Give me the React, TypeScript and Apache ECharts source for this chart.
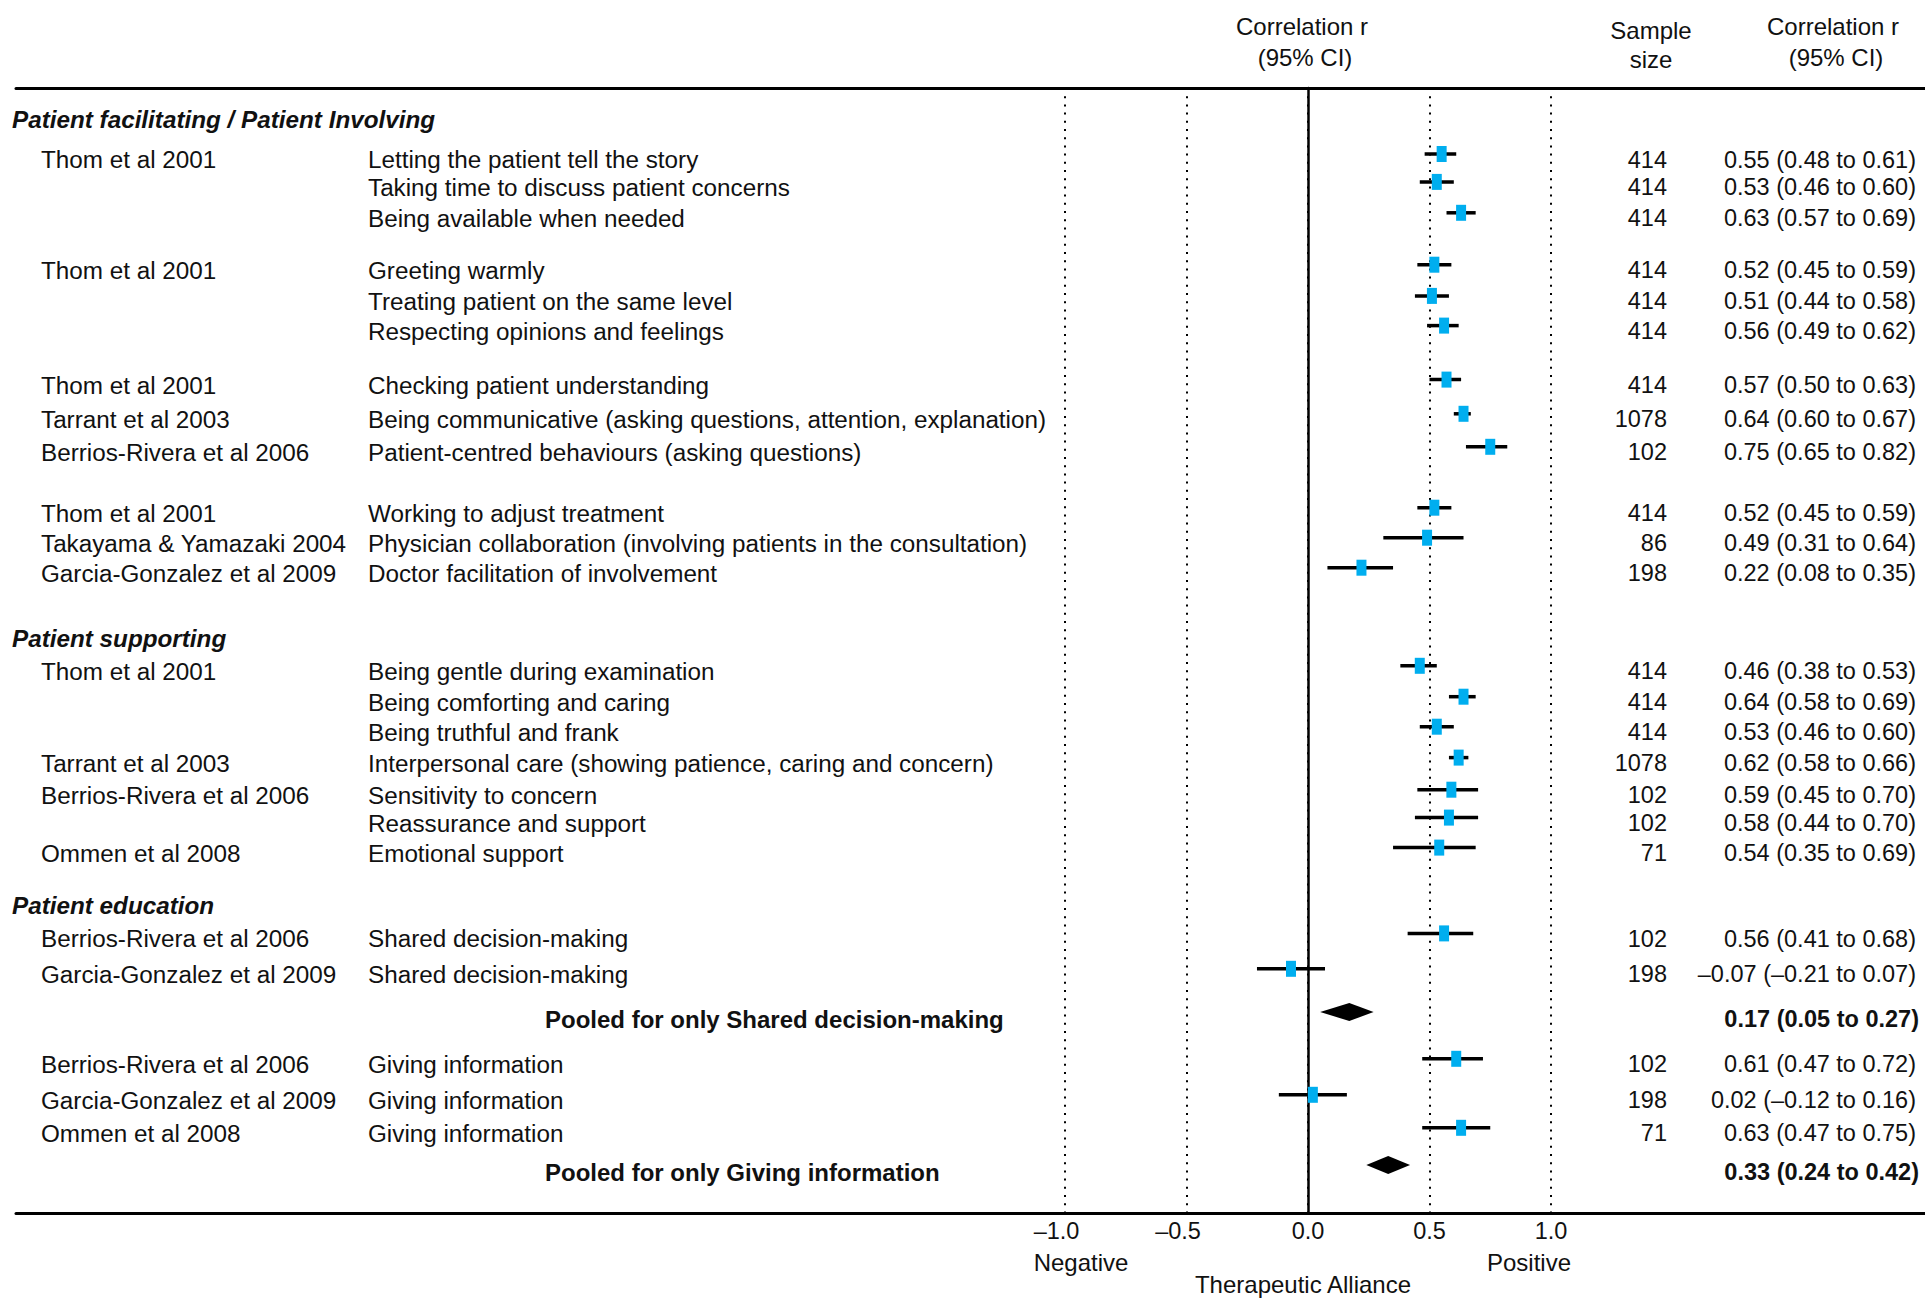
import React, { useEffect, useRef } from 'react';
import * as echarts from 'echarts';

// ---------- DATA ----------
const GROUPS = ['Patient facilitating / Patient Involving', 'Patient supporting', 'Patient education'];

const STUDY = [
  'Thom et al 2001', '', '',
  'Thom et al 2001', '', '',
  'Thom et al 2001', 'Tarrant et al 2003', 'Berrios-Rivera et al 2006',
  'Thom et al 2001', 'Takayama & Yamazaki 2004', 'Garcia-Gonzalez et al 2009',
  'Thom et al 2001', '', '', 'Tarrant et al 2003', 'Berrios-Rivera et al 2006', '', 'Ommen et al 2008',
  'Berrios-Rivera et al 2006', 'Garcia-Gonzalez et al 2009',
  'Berrios-Rivera et al 2006', 'Garcia-Gonzalez et al 2009', 'Ommen et al 2008',
];

const OUTCOME = [
  'Letting the patient tell the story', 'Taking time to discuss patient concerns', 'Being available when needed',
  'Greeting warmly', 'Treating patient on the same level', 'Respecting opinions and feelings',
  'Checking patient understanding', 'Being communicative (asking questions, attention, explanation)', 'Patient-centred behaviours (asking questions)',
  'Working to adjust treatment', 'Physician collaboration (involving patients in the consultation)', 'Doctor facilitation of involvement',
  'Being gentle during examination', 'Being comforting and caring', 'Being truthful and frank',
  'Interpersonal care (showing patience, caring and concern)', 'Sensitivity to concern', 'Reassurance and support', 'Emotional support',
  'Shared decision-making', 'Shared decision-making',
  'Giving information', 'Giving information', 'Giving information',
];

const SAMPLE = [414, 414, 414, 414, 414, 414, 414, 1078, 102, 414, 86, 198, 414, 414, 414, 1078, 102, 102, 71, 102, 198, 102, 198, 71];
const R = [0.55, 0.53, 0.63, 0.52, 0.51, 0.56, 0.57, 0.64, 0.75, 0.52, 0.49, 0.22, 0.46, 0.64, 0.53, 0.62, 0.59, 0.58, 0.54, 0.56, -0.07, 0.61, 0.02, 0.63];
const LO = [0.48, 0.46, 0.57, 0.45, 0.44, 0.49, 0.50, 0.60, 0.65, 0.45, 0.31, 0.08, 0.38, 0.58, 0.46, 0.58, 0.45, 0.44, 0.35, 0.41, -0.21, 0.47, -0.12, 0.47];
const HI = [0.61, 0.60, 0.69, 0.59, 0.58, 0.62, 0.63, 0.67, 0.82, 0.59, 0.64, 0.35, 0.53, 0.69, 0.60, 0.66, 0.70, 0.70, 0.69, 0.68, 0.07, 0.72, 0.16, 0.75];

const POOLED_LABEL = ['Pooled for only Shared decision-making', 'Pooled for only Giving information'];
const POOLED_R = [0.17, 0.33];
const POOLED_LO = [0.05, 0.24];
const POOLED_HI = [0.27, 0.42];

// ---------- LAYOUT (row slots, in row units) ----------
const GROUP_ROW = [0.93, 18.2, 27.13];
const STUDY_ROW = [2.2, 3.13, 4.16, 5.89, 6.93, 7.92, 9.72, 10.86, 11.96, 13.99, 14.99, 15.99,
  19.26, 20.29, 21.29, 22.32, 23.39, 24.32, 25.32, 28.18, 29.36, 32.36, 33.56, 34.66];
const POOLED_ROW = [30.8, 35.9];
const ROW_MAX = 37.5;

const FONT = '"Liberation Sans", Helvetica, Arial, sans-serif';
const INK = '#111';
const LEFT_SIZE = 24.25;
const NUM_SIZE = 23.5;

const fmt = (v: number) => (v < 0 ? '–' : '') + Math.abs(v).toFixed(2);
const ciText = (r: number, lo: number, hi: number) => `${fmt(r)} (${fmt(lo)} to ${fmt(hi)})`;

function textSeries(xCol: number, rows: number[], texts: string[], o: any) {
  return {
    type: 'custom',
    xAxisIndex: 1,
    yAxisIndex: 1,
    silent: true,
    data: rows.map((p) => [xCol, p]),
    encode: { x: 0, y: 1 },
    renderItem: (params: any, api: any) => {
      const t = texts[params.dataIndex];
      if (!t) return { type: 'group', children: [] };
      const c = api.coord([api.value(0), api.value(1)]);
      return {
        type: 'text',
        x: c[0],
        y: c[1] + (o.dy ?? 5.5),
        style: {
          text: t,
          align: o.align,
          textAlign: o.align,
          verticalAlign: 'middle',
          textVerticalAlign: 'middle',
          fontSize: o.size ?? LEFT_SIZE,
          fontWeight: o.weight ?? 'normal',
          fontStyle: o.style ?? 'normal',
          fontFamily: FONT,
          fill: INK,
        },
      };
    },
  };
}

function gText(text: string, x: number, y: number, size = 24) {
  return {
    type: 'text',
    x,
    y,
    silent: true,
    style: {
      text,
      align: 'center',
      textAlign: 'center',
      verticalAlign: 'middle',
      textVerticalAlign: 'middle',
      fontSize: size,
      fontFamily: FONT,
      fill: INK,
    },
  };
}

export default function App() {
  const ref = useRef<HTMLDivElement>(null);

  useEffect(() => {
    document.body.style.margin = '0';
    const chart = echarts.init(ref.current!, null, { renderer: 'svg' });

    const axisHidden = { axisLabel: { show: false }, axisTick: { show: false }, splitLine: { show: false } };

    const option: any = {
      animation: false,
      backgroundColor: '#fff',
      grid: [
        { left: 1065, right: 374, top: 88, bottom: 86 },
        { left: 16, right: 0, top: 88, bottom: 86 },
      ],
      xAxis: [
        {
          gridIndex: 0,
          type: 'value',
          min: -1,
          max: 1,
          interval: 0.5,
          axisLine: { show: false, onZero: false },
          axisTick: { show: false },
          axisLabel: {
            show: true,
            margin: 6,
            fontSize: NUM_SIZE,
            fontFamily: FONT,
            color: INK,
            formatter: (v: number) => {
              const s = Math.abs(v).toFixed(1);
              return v < 0 ? `{n|–${s}}` : s;
            },
            rich: { n: { fontSize: NUM_SIZE, fontFamily: FONT, color: INK, padding: [0, 17, 0, 0] } },
          },
          splitLine: { show: true, lineStyle: { type: [2, 6.2], width: 2, color: '#000' } },
        },
        {
          gridIndex: 1,
          type: 'value',
          position: 'bottom',
          min: 16,
          max: 1925,
          axisLine: { show: true, onZero: false, lineStyle: { color: '#000', width: 3 } },
          ...axisHidden,
        },
        {
          gridIndex: 1,
          type: 'value',
          position: 'top',
          min: 16,
          max: 1925,
          axisLine: { show: true, onZero: false, lineStyle: { color: '#000', width: 3 } },
          ...axisHidden,
        },
      ],
      yAxis: [
        {
          gridIndex: 0,
          type: 'value',
          inverse: true,
          min: 0,
          max: ROW_MAX,
          axisLine: { show: true, onZero: true, lineStyle: { color: '#000', width: 2.5 } },
          ...axisHidden,
        },
        {
          gridIndex: 1,
          type: 'value',
          inverse: true,
          min: 0,
          max: ROW_MAX,
          show: false,
        },
      ],
      graphic: [
        gText('Correlation r', 1302, 26),
        gText('(95% CI)', 1305, 57),
        gText('Sample', 1651, 30),
        gText('size', 1651, 59),
        gText('Correlation r', 1833, 26),
        gText('(95% CI)', 1836, 57),
        gText('Negative', 1081, 1262),
        gText('Positive', 1529, 1262),
        gText('Therapeutic Alliance', 1303, 1284),
      ],
      series: [
        // confidence intervals and point estimates
        {
          type: 'custom',
          xAxisIndex: 0,
          yAxisIndex: 0,
          silent: true,
          data: STUDY_ROW.map((p, i) => [LO[i], HI[i], R[i], p]),
          encode: { x: [0, 1, 2], y: 3 },
          renderItem: (params: any, api: any) => {
            const y = api.value(3);
            const a = api.coord([api.value(0), y]);
            const b = api.coord([api.value(1), y]);
            const m = api.coord([api.value(2), y]);
            return {
              type: 'group',
              children: [
                { type: 'line', shape: { x1: a[0], y1: a[1], x2: b[0], y2: b[1] }, style: { stroke: '#000', lineWidth: 3.5 } },
                { type: 'rect', shape: { x: m[0] - 5, y: m[1] - 8, width: 10, height: 16 }, style: { fill: '#00AEEF' } },
              ],
            };
          },
        },
        // pooled diamonds
        {
          type: 'custom',
          xAxisIndex: 0,
          yAxisIndex: 0,
          silent: true,
          data: POOLED_ROW.map((p, i) => [POOLED_LO[i], POOLED_HI[i], POOLED_R[i], p]),
          encode: { x: [0, 1, 2], y: 3 },
          renderItem: (params: any, api: any) => {
            const y = api.value(3);
            const a = api.coord([api.value(0), y]);
            const b = api.coord([api.value(1), y]);
            const m = api.coord([api.value(2), y]);
            return {
              type: 'polygon',
              shape: { points: [[a[0], a[1]], [m[0], m[1] - 9], [b[0], b[1]], [m[0], m[1] + 9]] },
              style: { fill: '#000' },
            };
          },
        },
        // text columns
        textSeries(12, GROUP_ROW, GROUPS, { align: 'left', weight: 'bold', style: 'italic', dy: 4 }),
        textSeries(41, STUDY_ROW, STUDY, { align: 'left' }),
        textSeries(368, STUDY_ROW, OUTCOME, { align: 'left' }),
        textSeries(1667, STUDY_ROW, SAMPLE.map(String), { align: 'right', size: NUM_SIZE }),
        textSeries(1916, STUDY_ROW, STUDY_ROW.map((_, i) => ciText(R[i], LO[i], HI[i])), { align: 'right', size: NUM_SIZE }),
        textSeries(545, POOLED_ROW, POOLED_LABEL, { align: 'left', weight: 'bold', size: 24, dy: 7 }),
        textSeries(1919, POOLED_ROW, POOLED_ROW.map((_, i) => ciText(POOLED_R[i], POOLED_LO[i], POOLED_HI[i])), { align: 'right', weight: 'bold', size: NUM_SIZE, dy: 7 }),
      ],
    };

    chart.setOption(option);
    return () => chart.dispose();
  }, []);

  return (
    <div
      ref={ref}
      style={{ position: 'absolute', left: 0, top: 0, width: 1925, height: 1299, background: '#fff' }}
    />
  );
}
